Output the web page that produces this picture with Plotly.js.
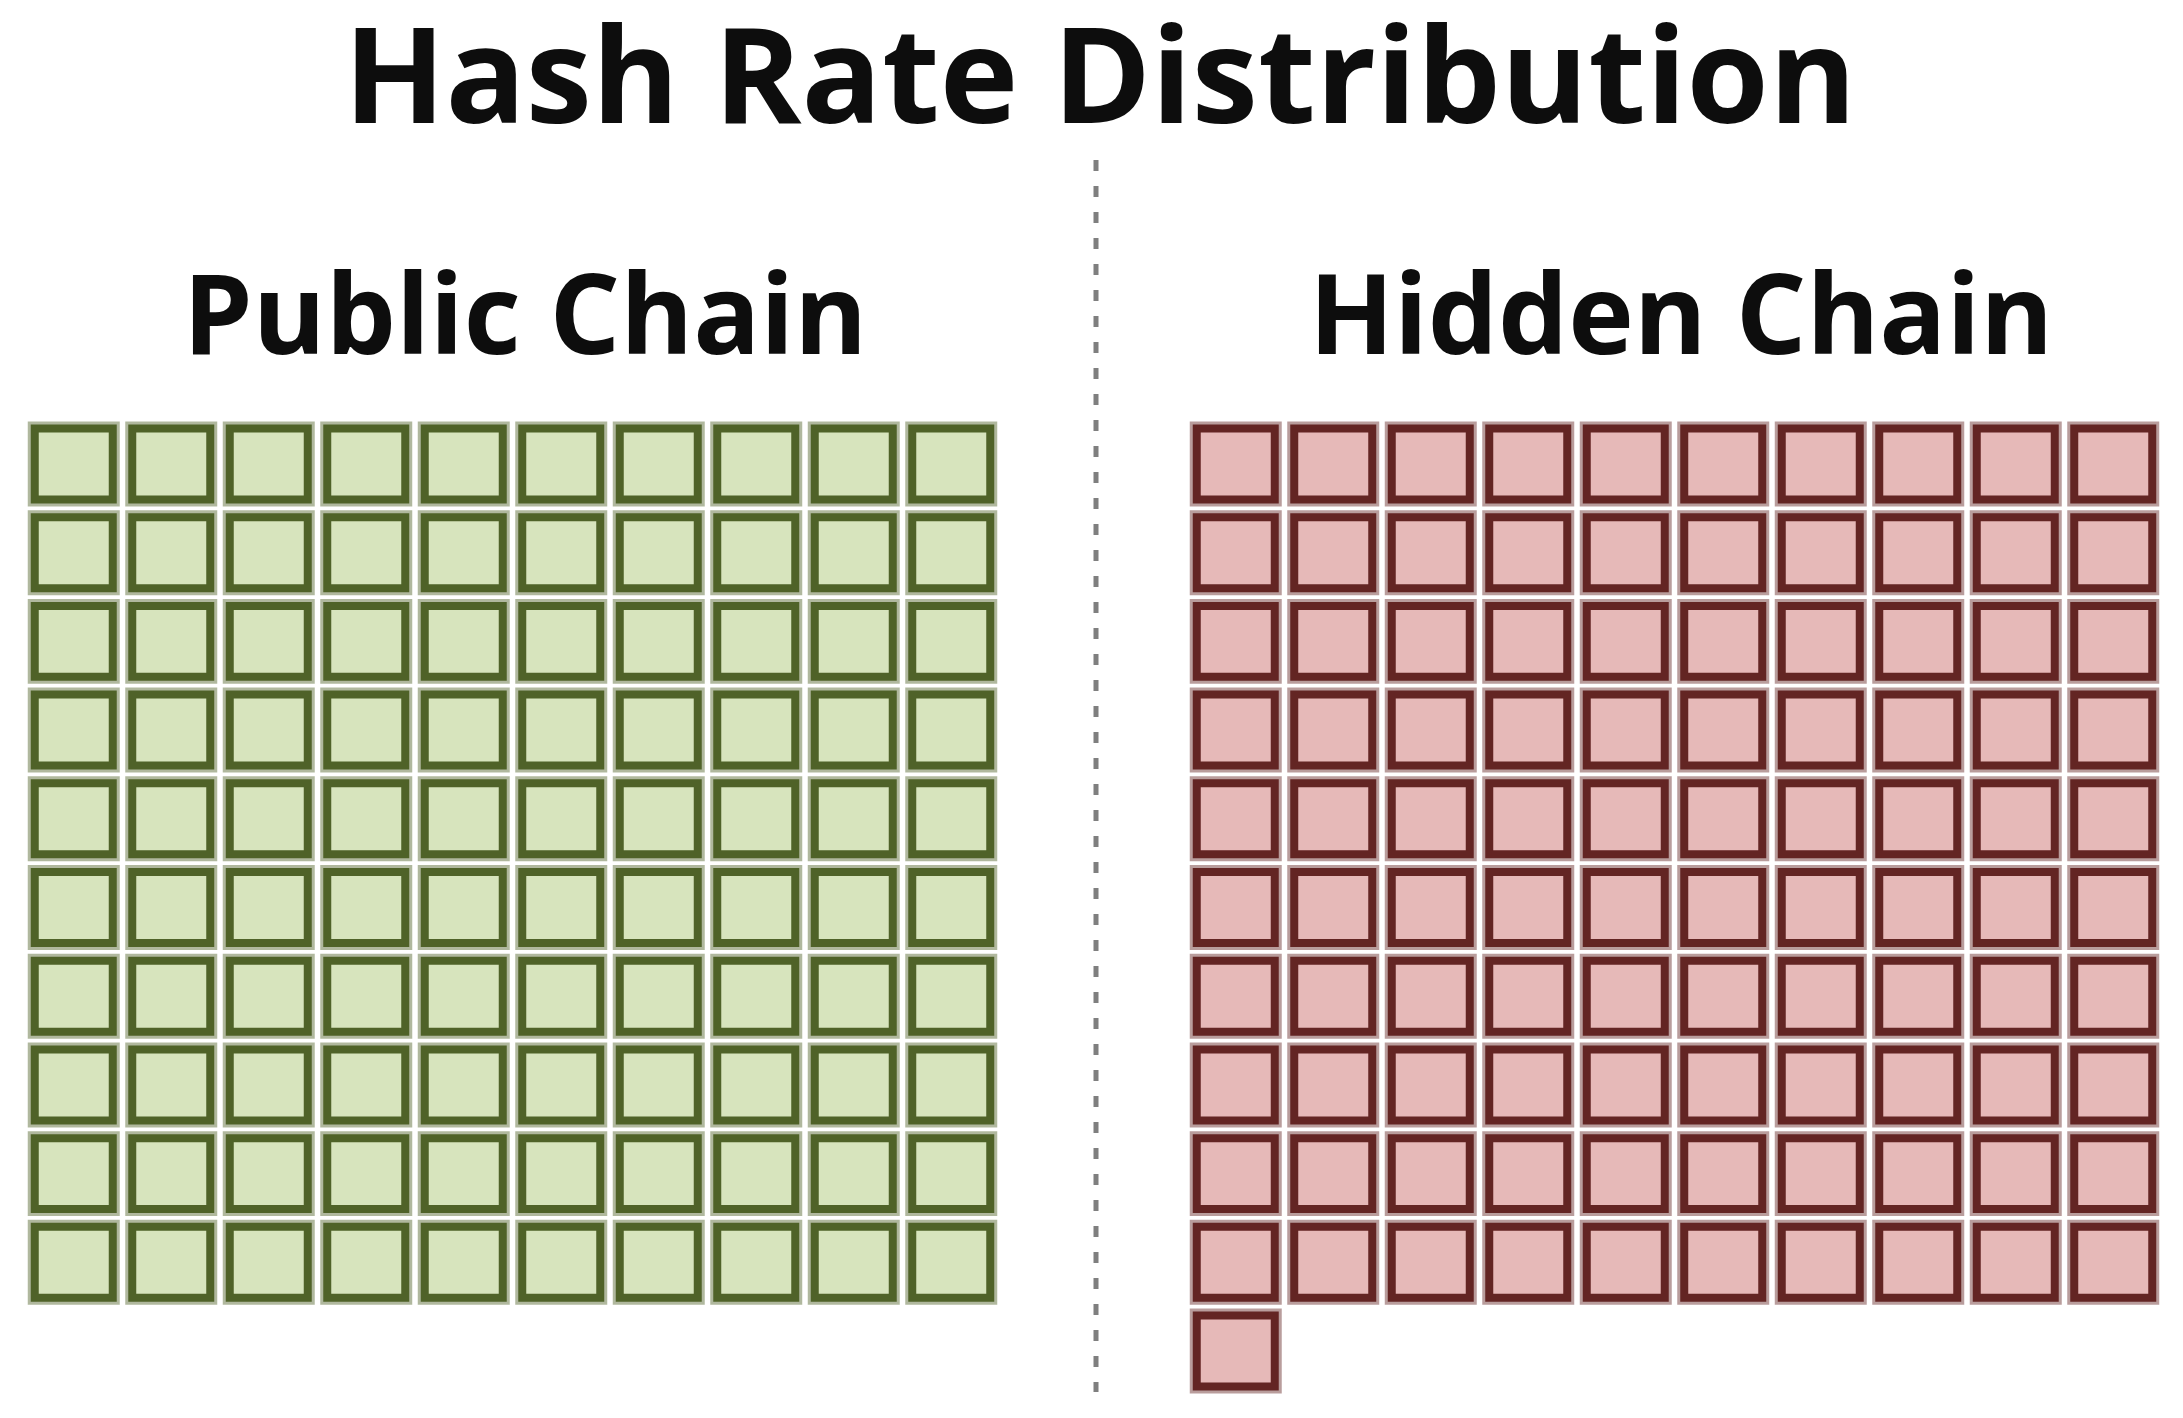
<!DOCTYPE html>
<html>
<head>
<meta charset="utf-8">
<script src="https://cdn.plot.ly/plotly-3.0.1.min.js"></script>
<style>
  html, body { margin: 0; padding: 0; background: #ffffff; }
  #chart { width: 2183px; height: 1418px; }
</style>
</head>
<body>
<div id="chart"></div>
<script>
// Waffle chart: one square per unit of hash rate
const chainNames = ['Public Chain', 'Hidden Chain'];
const blockCounts = [100, 101];
const blocksPerRow = [10, 10];
const fillColors = ['#d7e4bd', '#e6b9b8'];
const edgeColors = ['#4f6228', '#632523'];
const haloColors = ['rgba(79,98,40,0.45)', 'rgba(99,37,35,0.45)'];

const W = 2183, H = 1418;
const CELL = 0.8; // fraction of the pitch taken by a cell

function waffleCells(count, perRow) {
    const cols = [], rows = [];
    for (let i = 0; i < count; i++) {
        cols.push(i % perRow);
        rows.push(Math.floor(i / perRow));
    }
    return { cols, rows };
}

const traces = [];
chainNames.forEach((name, k) => {
    const cells = waffleCells(blockCounts[k], blocksPerRow[k]);
    const xa = k === 0 ? 'x' : 'x2';
    const base = cells.rows.map(r => r - CELL / 2);
    const height = cells.rows.map(() => CELL);
    // soft outer halo
    traces.push({
        type: 'bar', name: name, x: cells.cols, y: height, base: base,
        width: CELL, xaxis: xa, yaxis: 'y', hoverinfo: 'skip', showlegend: false,
        marker: { color: fillColors[k], line: { color: haloColors[k], width: 14 } }
    });
    // dark border + fill
    traces.push({
        type: 'bar', name: name, x: cells.cols, y: height, base: base,
        width: CELL, xaxis: xa, yaxis: 'y', hoverinfo: 'skip', showlegend: false,
        marker: { color: fillColors[k], line: { color: edgeColors[k], width: 8 } }
    });
});

const hiddenAxis = { visible: false, showgrid: false, zeroline: false, fixedrange: true };
const labelFont = { family: 'Open Sans, sans-serif', size: 111, weight: 700, color: '#0d0d0d' };

const layout = {
    width: W,
    height: H,
    margin: { l: 0, r: 0, t: 0, b: 0 },
    paper_bgcolor: '#ffffff',
    plot_bgcolor: 'rgba(0,0,0,0)',
    barmode: 'overlay',
    showlegend: false,
    title: {
        text: 'Hash Rate Distribution',
        x: 1100 / W, xanchor: 'center',
        y: 1 - 30 / H, yanchor: 'top', yref: 'container',
        font: { family: 'Open Sans, sans-serif', size: 133, weight: 700, color: '#0d0d0d' }
    },
    xaxis: Object.assign({ domain: [25 / W, 1000 / W], range: [-0.5, 9.5], anchor: 'y' }, hiddenAxis),
    xaxis2: Object.assign({ domain: [1187 / W, 2162 / W], range: [-0.5, 9.5], anchor: 'y' }, hiddenAxis),
    yaxis: Object.assign({ domain: [(H - 1395.4) / H, (H - 419.6) / H], range: [10.5, -0.5] }, hiddenAxis),
    annotations: [
        { text: chainNames[0], xref: 'paper', yref: 'paper', x: 525 / W, y: 1 - 311 / H,
          xanchor: 'center', yanchor: 'middle', showarrow: false, font: labelFont },
        { text: chainNames[1], xref: 'paper', yref: 'paper', x: 1681 / W, y: 1 - 311 / H,
          xanchor: 'center', yanchor: 'middle', showarrow: false, font: labelFont }
    ],
    shapes: [
        { type: 'line', xref: 'paper', yref: 'paper',
          x0: 1096 / W, x1: 1096 / W, y0: 1 - 160 / H, y1: 1 - 1392 / H,
          line: { color: '#7f7f7f', width: 5, dash: '11px,15px' } }
    ]
};

Plotly.newPlot('chart', traces, layout, { staticPlot: true, displayModeBar: false });
</script>
</body>
</html>
